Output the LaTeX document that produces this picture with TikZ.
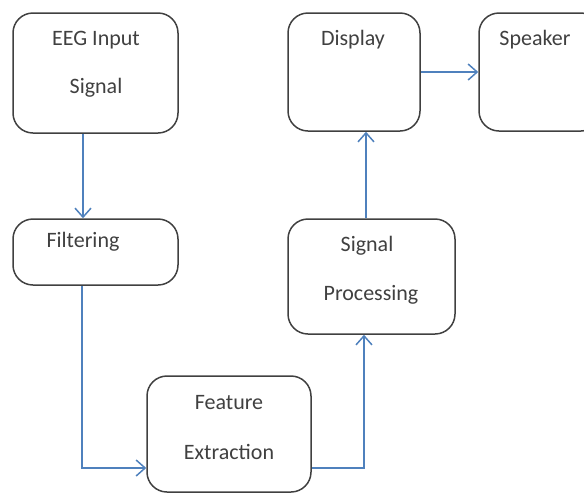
\documentclass[tikz,border=0pt]{standalone}
\usepackage{fontspec}
\setmainfont{Carlito}
\usepackage{xcolor}
\usetikzlibrary{arrows.meta}

\definecolor{boxgray}{RGB}{64,64,64}
\definecolor{flowblue}{RGB}{79,129,189}

\tikzset{
  block/.style={draw=boxgray, line width=0.75pt, rounded corners=10pt, rectangle, inner sep=0pt},
  lbl/.style={text=boxgray, font=\fontsize{11}{13}\selectfont, inner sep=0pt},
  flow/.style={draw=flowblue, line width=0.75pt, -{Straight Barb[length=4.5pt,width=8pt,line width=0.75pt]}}
}

\begin{document}
\begin{tikzpicture}[x=0.5pt,y=-0.5pt]
      \useasboundingbox (0,0) rectangle (584,494);
      \clip (0,0) rectangle (584,494);

      \node[block, minimum width=82.5pt, minimum height=60pt] (eeg) at (95.5,73){};
      \node[block, minimum width=82.5pt, minimum height=33pt] (filt) at (95.5,252){};
      \node[block, minimum width=82pt, minimum height=58pt] (feat) at (229,434){};
      \node[block, minimum width=83.5pt, minimum height=57.5pt] (sigp) at (371.5,276.5){};
      \node[block, minimum width=66pt, minimum height=59pt] (disp) at (354,72){};
      \node[block, minimum width=61pt, minimum height=59pt] (spk) at (540,72){};

      \node[lbl] (eegt1) at (96,40){EEG Input};
      \node[lbl] (eegt2) at (96,88){Signal};
      \node[lbl] (filtt) at (83,242){Filtering};
      \node[lbl] (featt1) at (229,403){Feature};
      \node[lbl] (featt2) at (229,452){Extraction};
      \node[lbl] (sigpt1) at (367,246){Signal};
      \node[lbl] (sigpt2) at (371,295){Processing};
      \node[lbl] (dispt) at (353,40){Display};
      \node[lbl] (spkt) at (535,40){Speaker};

      \draw[flow] ([xshift=-6.25pt]eeg.south) -- ([xshift=-6.25pt]filt.north);
      \draw[flow] ([xshift=-6.75pt]filt.south) |- ([yshift=-17pt]feat.west);
      \draw[flow] ([yshift=-17pt]feat.east) -| ([xshift=-3.75pt]sigp.south);
      \draw[flow] ([xshift=-2.75pt]sigp.north) -- ([xshift=-2.75pt]sigp.north |- disp.south);
      \draw[flow] (disp.east) -- (spk.west);
    \end{tikzpicture}
\end{document}
